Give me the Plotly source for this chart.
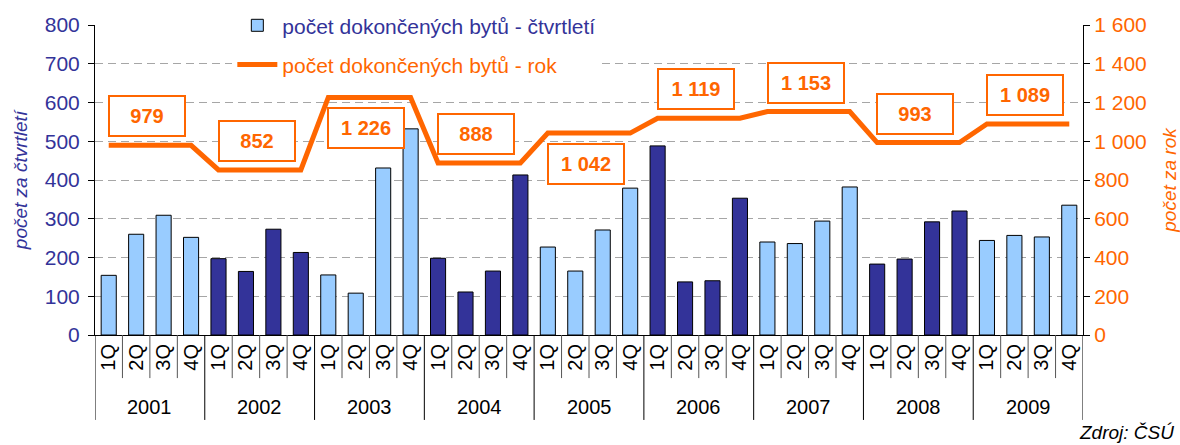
import plotly.graph_objects as go

# ---- data ----
years = ["2001", "2002", "2003", "2004", "2005", "2006", "2007", "2008", "2009"]
quarters = ["1Q", "2Q", "3Q", "4Q"]
quarterly_values = [
    154, 260, 309, 252,   # 2001
    197, 164, 273, 213,   # 2002
    155, 108, 431, 532,   # 2003
    198, 111, 165, 413,   # 2004
    227, 165, 271, 379,   # 2005
    488, 137, 140, 353,   # 2006
    240, 236, 294, 382,   # 2007
    183, 196, 292, 320,   # 2008
    244, 257, 253, 335,   # 2009
]
annual_values = [979, 852, 1226, 888, 1042, 1119, 1153, 993, 1089]
left_ticks = [0, 100, 200, 300, 400, 500, 600, 700, 800]
right_ticks = [0, 200, 400, 600, 800, 1000, 1200, 1400, 1600]

# ---- styles ----
FONT = "Liberation Sans, Arial, sans-serif"
ORANGE = "#FF6600"
DARK = "#333399"
LIGHT = "#99CCFF"
box_above = [True, True, False, True, False, True, True, True, True]

def fmt(v):
    return f"{v:,}".replace(",", " ")

categories = [f"{q} {y}" for y in years for q in quarters]
tick_quarters = [q for y in years for q in quarters]
bar_colors = [LIGHT if i % 2 == 0 else DARK for i, y in enumerate(years) for q in quarters]
line_values = [annual_values[i] for i, y in enumerate(years) for q in quarters]

fig = go.Figure()
fig.add_trace(go.Bar(
    x=categories, y=quarterly_values,
    name="<span style='color:#333399'>počet dokončených bytů - čtvrtletí</span>",
    marker=dict(color=bar_colors, line=dict(color="#000000", width=1)),
    legendgroup="a",
))
fig.add_trace(go.Scatter(
    x=categories, y=line_values, yaxis="y2", mode="lines",
    name="<span style='color:#FF6600'>počet dokončených bytů - rok</span>",
    line=dict(color=ORANGE, width=5),
    legendgroup="b",
))

annotations = []
for i, (y, v) in enumerate(zip(years, annual_values)):
    annotations.append(dict(
        x=4 * i + 1.5, y=v, xref="x", yref="y2",
        text=f"<b>{fmt(v)}</b>", showarrow=False,
        font=dict(family=FONT, size=20, color=ORANGE),
        bgcolor="white", bordercolor=ORANGE, borderwidth=2, borderpad=2,
        width=70, height=34, xshift=-3,
        yshift=29 if box_above[i] else -31,
    ))
    annotations.append(dict(
        x=4 * i + 1.5, y=-0.232, xref="x", yref="paper",
        text=y, showarrow=False, yanchor="middle",
        font=dict(family=FONT, size=20, color="black"),
    ))
annotations.append(dict(
    x=1.0, y=-0.313, xref="paper", yref="paper", xanchor="right", yanchor="middle",
    xshift=93, text="<i>Zdroj: ČSÚ</i>", showarrow=False,
    font=dict(family=FONT, size=19, color="black"),
))

shapes = []
n = len(categories)
for k in range(n + 1):
    long = (k % 4 == 0)
    shapes.append(dict(
        type="line", xref="x", yref="paper",
        x0=k - 0.5, x1=k - 0.5, y0=0, y1=-0.274 if long else -0.139,
        line=dict(color="black" if long else "#555555", width=1),
    ))

fig.update_layout(
    width=1180, height=445,
    margin=dict(l=95, r=97, t=25, b=110, autoexpand=False),
    paper_bgcolor="white", plot_bgcolor="white",
    font=dict(family=FONT, size=18, color="black"),
    bargap=0.45,
    showlegend=True,
    legend=dict(
        x=0.139, y=1.064, xanchor="left", yanchor="top",
        bgcolor="white", font=dict(family=FONT, size=21),
        tracegroupgap=9, itemwidth=40,
    ),
    xaxis=dict(
        range=[-0.5, n - 0.5], automargin=False,
        tickmode="array", tickvals=categories, ticktext=tick_quarters,
        tickangle=-90, tickfont=dict(family=FONT, size=20, color="black"),
        ticks="", showline=True, linecolor="black", linewidth=1,
        showgrid=False, zeroline=False,
    ),
    yaxis=dict(
        range=[0, 800], tickvals=left_ticks, automargin=False,
        tickfont=dict(family=FONT, size=21, color=DARK), ticklabelstandoff=4,
        showline=True, linecolor="black", linewidth=1,
        ticks="outside", ticklen=6, tickcolor="black",
        showgrid=True, gridcolor="#A6A6A6", griddash="8px,5px", gridwidth=1,
        zeroline=False,
        title=dict(text="<i>počet za čtvrtletí</i>", standoff=12,
                   font=dict(family=FONT, size=19, color=DARK)),
    ),
    yaxis2=dict(
        range=[0, 1600], overlaying="y", side="right", automargin=False,
        tickvals=right_ticks, ticktext=[fmt(v) for v in right_ticks],
        tickfont=dict(family=FONT, size=21, color=ORANGE),
        showline=True, linecolor="black", linewidth=1,
        ticks="outside", ticklen=6, tickcolor="black",
        showgrid=False, zeroline=False,
        title=dict(text="<i>počet za rok</i>", standoff=16,
                   font=dict(family=FONT, size=19, color=ORANGE)),
    ),
    annotations=annotations,
    shapes=shapes,
)

fig.write_html(
    "out.html",
    config={"displayModeBar": False},
    post_script="document.body.style.margin='0px';document.body.style.overflow='hidden';",
)
